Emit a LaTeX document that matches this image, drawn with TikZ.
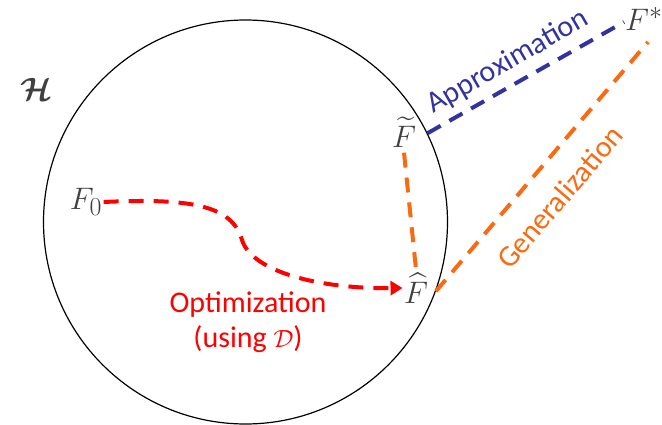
\documentclass[tikz,border=0pt]{standalone}
\usepackage{amsmath}
\usepackage{amssymb}
\usepackage{bm}
\usepackage{fontspec}
\setmainfont{Carlito}
\usetikzlibrary{positioning}
\usetikzlibrary{calc}
\usetikzlibrary{arrows.meta}

\definecolor{optred}{HTML}{FF0000}
\definecolor{genorange}{HTML}{FA6A12}
\definecolor{apxblue}{HTML}{3333A0}
\definecolor{mathgray}{HTML}{404040}

\begin{document}
\begin{tikzpicture}[x=1pt, y=-1pt,
    pt/.style={inner sep=1pt, text=mathgray, scale=1.25, font=\fontsize{24.88}{30}\selectfont},
    dashline/.style={line width=4pt, dash pattern=on 15pt off 10pt},
    lbl/.style={inner sep=2pt, font=\fontsize{30}{35}\selectfont}]

      \useasboundingbox (0,0) rectangle (662,425);

      % Hypothesis space
      \node[circle, draw=black, line width=1.2pt, inner sep=0pt, minimum size=404pt] (hyp) at (245.5,222) {};
      \node[inner sep=0pt, text=mathgray, scale=1.3, font=\fontsize{24.88}{30}\selectfont] (H) at (36,89) {$\bm{\mathcal{H}}$};

      % Points
      \node[pt] (F0) at (86,202) {$F_0$};
      \node[pt] (Fhat) at (416,288) {$\widehat{F}$};
      \node[pt] (Ftil) at (404,132) {$\widetilde{F}$};
      \node[pt] (Fstar) at (644,19) {$F^*$};

      % Free ends of the two outer lines
      \coordinate (aend) at (624,22);
      \coordinate (gend) at (648,42);

      % Optimization path
      \draw[dashline, optred, -{Triangle[length=12pt, width=14pt]}]
        (F0.east) .. controls (190,198) and (232,205) .. (242,240)
        .. controls (252,272) and (320,289) .. (Fhat.west);
      \node[lbl, text=optred, align=center] (opt) at (248,322) {Optimization\\(using $\mathcal{D}$)};

      % Approximation error
      \draw[dashline, apxblue] (hyp.26) -- (aend);
      \node[lbl, text=apxblue, rotate=30] (apx) at (508,62) {Approximation};

      % Generalization error
      \draw[dashline, genorange] (hyp.-20) -- (gend);
      \node[lbl, text=genorange, rotate=49.5] (gen) at (560,197) {Generalization};
      \draw[dashline, genorange] ([yshift=-4pt]Ftil.south) -- ([yshift=2pt]Fhat.north);

\end{tikzpicture}
\end{document}
